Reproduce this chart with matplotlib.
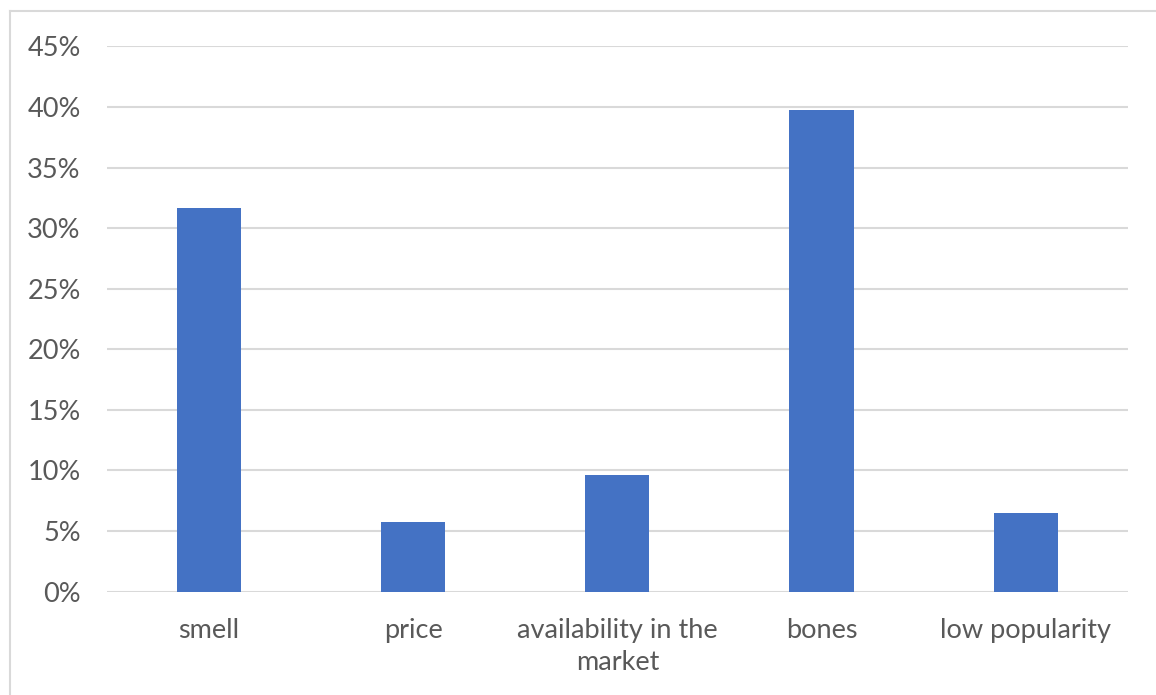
import matplotlib
matplotlib.use("Agg")
import matplotlib.pyplot as plt
from matplotlib.lines import Line2D
from matplotlib.ticker import FuncFormatter, MultipleLocator

# Reasons given, as share of respondents
categories = ["smell", "price", "availability in the\nmarket", "bones", "low popularity"]
shares = [0.3167, 0.0574, 0.0963, 0.3979, 0.0649]

BAR_COLOR = "#4472C4"
GRID_COLOR = "#D9D9D9"
TEXT_COLOR = "#595959"

plt.rcParams["font.family"] = ["Lato", "DejaVu Sans"]

fig = plt.figure(figsize=(11.56, 6.95), dpi=100)
ax = fig.add_axes([0.0926, 0.1489, 0.9755 - 0.0926, 0.9331 - 0.1489])

x = range(len(categories))
ax.bar(x, shares, width=0.314, color=BAR_COLOR, zorder=3)

ax.set_xlim(-0.5, len(categories) - 0.5)
ax.set_ylim(0, 0.45)
ax.yaxis.set_major_locator(MultipleLocator(0.05))
ax.yaxis.set_major_formatter(FuncFormatter(lambda v, _: f"{round(v * 100)}%"))
ax.grid(axis="y", color=GRID_COLOR, linewidth=1.5, zorder=0)
ax.set_axisbelow(True)

ax.set_xticks(list(x))
ax.set_xticklabels(categories, linespacing=1.35)

for side in ax.spines:
    ax.spines[side].set_visible(False)

ax.tick_params(axis="both", length=0, labelsize=19.5, labelcolor=TEXT_COLOR)
ax.tick_params(axis="y", pad=19)
ax.tick_params(axis="x", pad=19)

# Chart area border (top and left edges)
fig.add_artist(Line2D([9.5 / 1156, 9.5 / 1156], [0, 1 - 11 / 695],
                      transform=fig.transFigure, color=GRID_COLOR, linewidth=1.5))
fig.add_artist(Line2D([9.5 / 1156, 1], [1 - 11 / 695, 1 - 11 / 695],
                      transform=fig.transFigure, color=GRID_COLOR, linewidth=1.5))

fig.savefig("out.png", dpi=100, facecolor="white")
